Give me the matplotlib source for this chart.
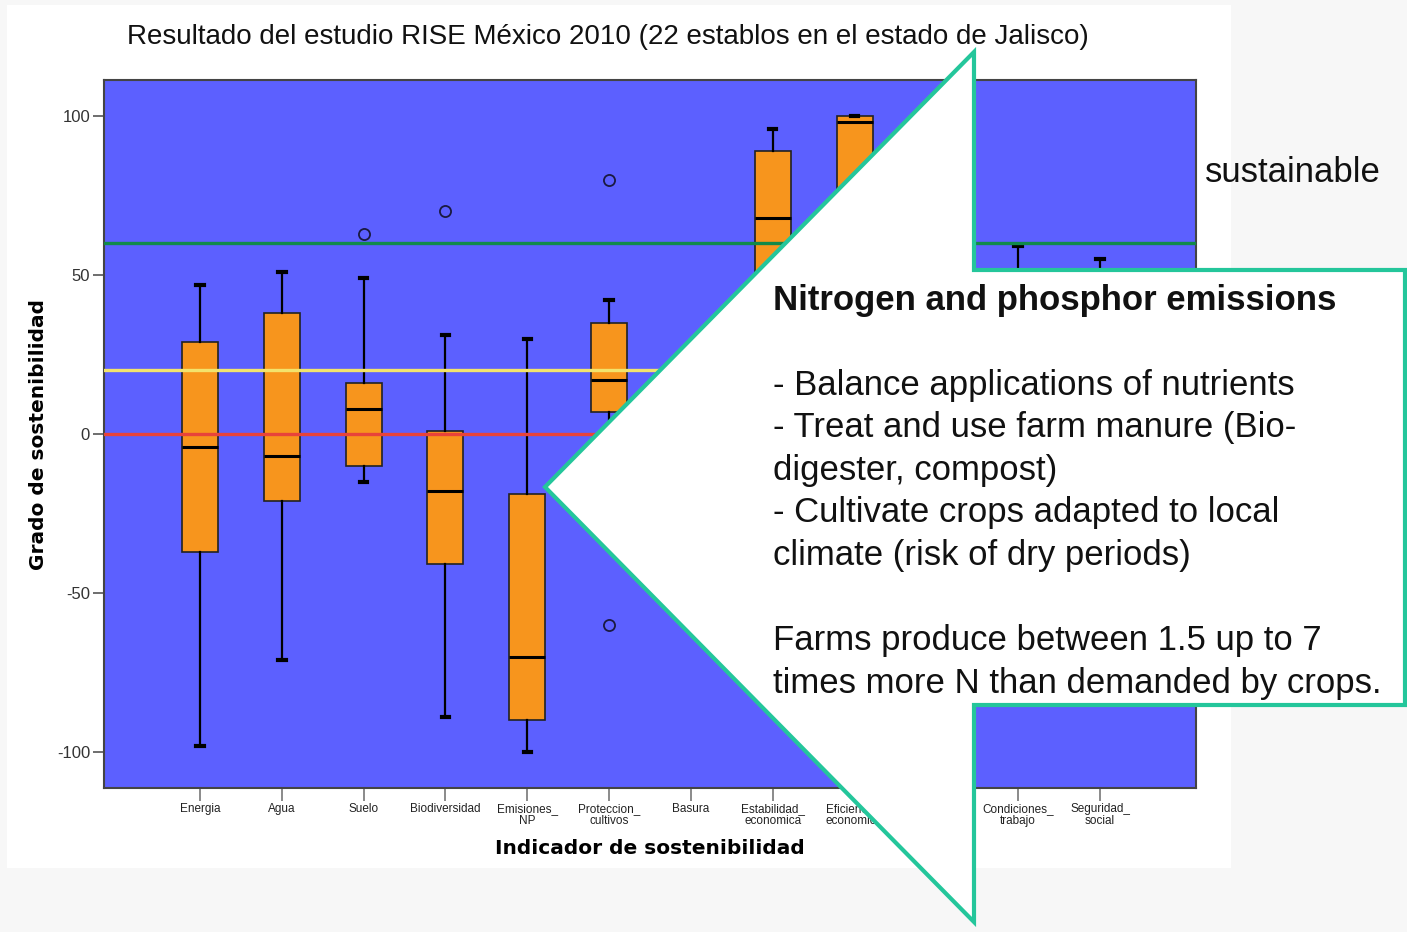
import numpy as np
import matplotlib.pyplot as plt
from matplotlib.patches import Polygon, Rectangle

plt.rcParams['axes.unicode_minus'] = False

W, H = 1407, 932

categories = ['Energia', 'Agua', 'Suelo', 'Biodiversidad', 'Emisiones_\nNP',
              'Proteccion_\ncultivos', 'Basura', 'Estabilidad_\neconomica',
              'Eficiencia_\neconomica', 'Economia_\nlocal', 'Condiciones_\ntrabajo',
              'Seguridad_\nsocial']

# box statistics (None = no box drawn)
whis_lo = [-98, -71, -15, -89, -100, -20, None, 20, 40, 10, -20, -30]
q1 = [-37, -21, -10, -41, -90, 7, None, 45, 70, 30, 15, 10]
medians = [-4, -7, 8, -18, -70, 17, None, 68, 98, 45, 30, 25]
q3 = [29, 38, 16, 1, -19, 35, None, 89, 100, 60, 45, 40]
whis_hi = [47, 51, 49, 31, 30, 42, None, 96, 100, 80, 59, 55]
outliers = [[], [], [63], [70], [], [80, -60], [], [], [], [], [], []]

thresholds = [60, 20, 0]
threshold_colors = ['#11894a', '#f3e36c', '#e8433a']

title = 'Resultado del estudio RISE México 2010 (22 establos en el estado de Jalisco)'
callout_head = 'Nitrogen and phosphor emissions'
callout_lines = ['- Balance applications of nutrients',
                 '- Treat and use farm manure (Bio-',
                 'digester, compost)',
                 '- Cultivate crops adapted to local',
                 'climate (risk of dry periods)',
                 '',
                 'Farms produce between 1.5 up to 7',
                 'times more N than demanded by crops.']

fig = plt.figure(figsize=(W / 100, H / 100), dpi=100, facecolor='#f7f7f7')

# white slide panel behind the chart
fig.add_artist(Rectangle((7 / W, 1 - 868 / H), 1224 / W, 863 / H,
                         transform=fig.transFigure, facecolor='white',
                         edgecolor='none', zorder=-5))

ax = fig.add_axes([104 / W, 1 - 788 / H, 1092 / W, 708 / H])
ax.set_facecolor('#5c60ff')

stats, pos = [], []
for i in range(len(categories)):
    if medians[i] is None:
        continue
    stats.append(dict(med=medians[i], q1=q1[i], q3=q3[i], whislo=whis_lo[i],
                      whishi=whis_hi[i], fliers=outliers[i]))
    pos.append(i + 1)

ax.bxp(stats, positions=pos, widths=0.44, capwidths=0.09, patch_artist=True,
       boxprops=dict(facecolor='#f7951d', edgecolor='#222222', linewidth=1.2),
       medianprops=dict(color='black', linewidth=2.2),
       whiskerprops=dict(color='black', linewidth=1.6),
       capprops=dict(color='black', linewidth=3),
       flierprops=dict(marker='o', markerfacecolor='none', markeredgecolor='#1a1a40',
                       markersize=8, markeredgewidth=1.3),
       zorder=2)

for y, c in zip(thresholds, threshold_colors):
    ax.axhline(y, color=c, linewidth=2.4, zorder=3)

ax.set_xlim(1 - 1.174, len(categories) + 1.174)
ax.set_ylim(-111.3, 111.3)
ax.set_yticks([-100, -50, 0, 50, 100])
ax.set_xticks(range(1, len(categories) + 1))
ax.set_xticklabels(categories, fontsize=8.5, family='Liberation Sans',
                   linespacing=1.0)
ax.tick_params(axis='y', labelsize=12, length=8, width=1.2, color='#555555',
               labelcolor='#333333', pad=2)
ax.tick_params(axis='x', length=9, width=1.2, color='#777777',
               labelcolor='#222222', pad=2)
for lab in ax.get_yticklabels():
    lab.set_family('Liberation Sans')
for s in ax.spines.values():
    s.set_color('#444444')
    s.set_linewidth(1.5)

ax.set_ylabel('Grado de sostenibilidad', fontsize=14.5, fontweight='bold',
              family='DejaVu Sans')
ax.yaxis.set_label_coords(-0.051, 0.5)
ax.set_xlabel('Indicador de sostenibilidad', fontsize=14.5, fontweight='bold',
              family='DejaVu Sans', va='center')
ax.xaxis.set_label_coords(0.5, -(848 - 788) / 708)

fig.text(608 / W, 1 - 37 / H, title, ha='center', va='center', fontsize=20,
         family='Liberation Sans', color='#111111')
fig.text(1205 / W, 1 - 172 / H, 'sustainable', ha='left', va='center',
         fontsize=25, family='Liberation Sans', color='#111111')

# arrow shaped callout box
pts = [(974, 52), (974, 270), (1405, 270), (1405, 705), (974, 705), (974, 922),
       (545, 487)]
fig.add_artist(Polygon([(x / W, 1 - y / H) for x, y in pts], closed=True,
                       transform=fig.transFigure, facecolor='white',
                       edgecolor='#24c69b', linewidth=3, zorder=5))

fig.text(773 / W, 1 - 300 / H, callout_head, ha='left', va='center', fontsize=25,
         fontweight='bold', family='Liberation Sans', color='#111111', zorder=6)
for k, line in enumerate(callout_lines):
    fig.text(773 / W, 1 - (385 + 42.6 * k) / H, line, ha='left', va='center',
             fontsize=25, family='Liberation Sans', color='#111111', zorder=6)

fig.savefig('out.png', dpi=100, facecolor=fig.get_facecolor())
